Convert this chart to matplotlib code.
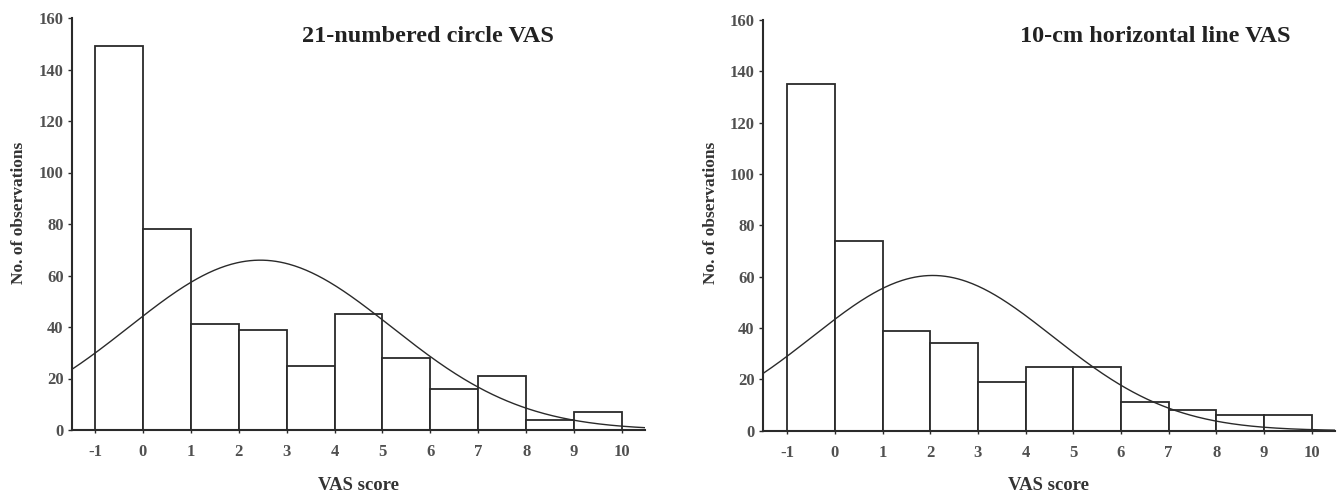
import numpy as np
import matplotlib
matplotlib.use("Agg")
import matplotlib.pyplot as plt

# ---- data ----
bin_edges = [-1, 0, 1, 2, 3, 4, 5, 6, 7, 8, 9, 10]
circle_counts = [149, 78, 41, 39, 25, 45, 28, 16, 21, 4, 7]
line_counts = [135, 74, 39, 34, 19, 25, 25, 11, 8, 6, 6]
circle_fit = (2.45, 2.74)   # mean, sd of fitted normal curve
line_fit = (2.05, 2.52)
titles = ["21-numbered circle VAS", "10-cm horizontal line VAS"]
xticks = list(range(-1, 11))
yticks = list(range(0, 161, 20))

W, H = 1341, 492
fig = plt.figure(figsize=(W / 100, H / 100), dpi=100)
plt.rcParams['font.family'] = ['Liberation Serif', 'DejaVu Serif']

dark = '#2a2a2a'
tick_col = '#505050'


def px_axes(x0, x1, ybot, ytop):
    return fig.add_axes([x0 / W, 1 - ybot / H, (x1 - x0) / W, (ybot - ytop) / H])


panels = [
    dict(ax=(72, 645, 430, 18), xlim=(-1.48, 10.48), counts=circle_counts, fit=circle_fit,
         title=titles[0], tpos=(427.5, 37), ylab=(19, 213)),
    dict(ax=(763, 1335, 430.7, 20), xlim=(-1.51, 10.49), counts=line_counts, fit=line_fit,
         title=titles[1], tpos=(1155, 37), ylab=(711, 213)),
]

for p in panels:
    ax = px_axes(*p['ax'])
    edges = np.array(bin_edges, dtype=float)
    counts = np.array(p['counts'], dtype=float)
    ax.bar(edges[:-1], counts, width=np.diff(edges), align='edge',
           facecolor='white', edgecolor=dark, linewidth=1.3, zorder=2)
    mu, sd = p['fit']
    n = counts.sum()
    xs = np.linspace(p['xlim'][0], p['xlim'][1], 400)
    ys = n * 1.0 / (sd * np.sqrt(2 * np.pi)) * np.exp(-0.5 * ((xs - mu) / sd) ** 2)
    ax.plot(xs, ys, color=dark, linewidth=1.0, zorder=3)
    ax.set_xlim(*p['xlim'])
    ax.set_ylim(0, 160)
    ax.set_xticks(xticks)
    ax.set_yticks(yticks)
    ax.set_xticklabels([str(t) for t in xticks], fontweight='bold', color=tick_col, fontsize=12)
    ax.set_yticklabels([str(t) for t in yticks], fontweight='bold', color=tick_col, fontsize=12)
    ax.tick_params(axis='x', length=2, width=1, color=dark, pad=8)
    ax.tick_params(axis='y', length=3, width=1, color=dark, pad=3)
    for s in ['top', 'right']:
        ax.spines[s].set_visible(False)
    for s in ['left', 'bottom']:
        ax.spines[s].set_color(dark)
        ax.spines[s].set_linewidth(1.5)
    ax.set_xlabel('VAS score', fontweight='bold', fontsize=13.5, color='#333333', labelpad=12)
    ax.set_facecolor('none')
    fig.text(p['ylab'][0] / W, 1 - p['ylab'][1] / H, 'No. of observations', rotation=90,
             ha='center', va='center', fontweight='bold', fontsize=12.5, color='#333333')
    fig.text(p['tpos'][0] / W, 1 - p['tpos'][1] / H, p['title'], ha='center', va='center',
             fontweight='bold', fontsize=17.5, color='#222222')

fig.savefig('out.png', dpi=100)
